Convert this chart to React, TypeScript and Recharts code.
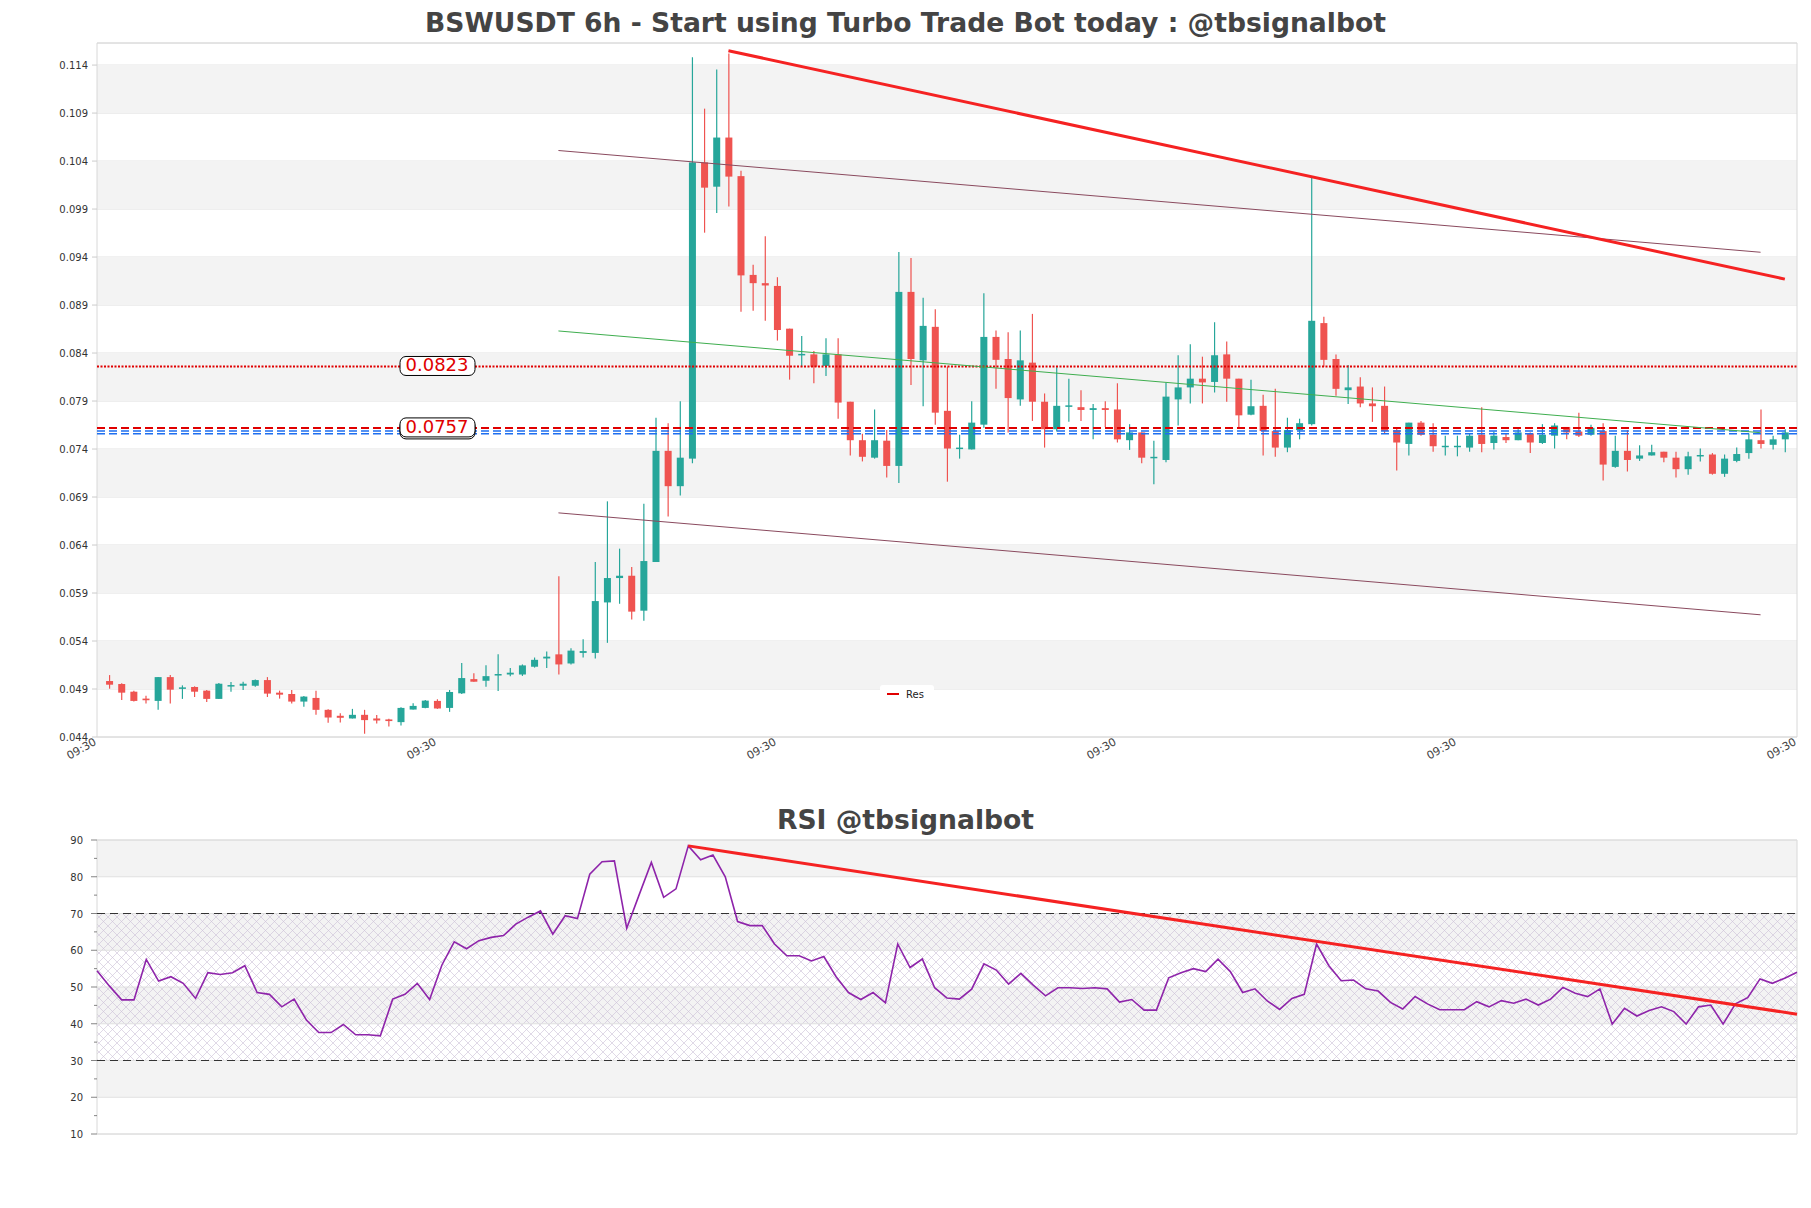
import React from 'react';
import {
  Bar,
  CartesianGrid,
  ComposedChart,
  Line,
  LineChart,
  ReferenceArea,
  ReferenceDot,
  ReferenceLine,
  XAxis,
  YAxis,
} from 'recharts';

// OHLC per 6h candle
const opens = [
  0.04983, 0.04952, 0.04872, 0.048, 0.04776, 0.05024, 0.04903, 0.04921, 0.04883, 0.04797,
  0.04934, 0.04934, 0.04934, 0.04993, 0.04862, 0.04848, 0.04769, 0.04807, 0.04683, 0.04621,
  0.04593, 0.04631, 0.04593, 0.04583, 0.04555, 0.04686, 0.04703, 0.04776, 0.04703, 0.04855,
  0.05003, 0.04986, 0.05041, 0.05051, 0.05051, 0.05132, 0.05218, 0.05261, 0.05166, 0.05276,
  0.05276, 0.05802, 0.06056, 0.0608, 0.05716, 0.06223, 0.07381, 0.07013, 0.073, 0.10386,
  0.10133, 0.10645, 0.10243, 0.09214, 0.09128, 0.09099, 0.08654, 0.08377, 0.08386, 0.08266,
  0.08386, 0.07893, 0.07492, 0.0731, 0.07487, 0.07224, 0.09037, 0.08324, 0.08673, 0.07798,
  0.07401, 0.07396, 0.07654, 0.08568, 0.08338, 0.07917, 0.083, 0.07893, 0.07607, 0.07841,
  0.07836, 0.07807, 0.07826, 0.07812, 0.07492, 0.07573, 0.07305, 0.07286, 0.07917, 0.08042,
  0.08133, 0.08099, 0.08386, 0.08133, 0.07758, 0.0785, 0.07587, 0.07415, 0.07597, 0.07659,
  0.08712, 0.08338, 0.08013, 0.08051, 0.07875, 0.0785, 0.07597, 0.07453, 0.07675, 0.07549,
  0.07425, 0.07425, 0.07415, 0.07549, 0.07463, 0.07525, 0.07492, 0.07563, 0.07463, 0.07539,
  0.0763, 0.07582, 0.07549, 0.07587, 0.07214, 0.07381, 0.073, 0.07333, 0.07372, 0.0731,
  0.0719, 0.07329, 0.07343, 0.07142, 0.07276, 0.07358, 0.07492, 0.07444, 0.07501,
];
const highs = [
  0.05045, 0.0496, 0.04883, 0.04831, 0.05024, 0.05045, 0.04938, 0.04928, 0.0489, 0.04962,
  0.04972, 0.04976, 0.05, 0.05024, 0.04883, 0.0489, 0.04828, 0.04883, 0.0469, 0.04648,
  0.04693, 0.04683, 0.04628, 0.0459, 0.0471, 0.04752, 0.04786, 0.04793, 0.0489, 0.05172,
  0.05065, 0.05148, 0.05262, 0.05118, 0.05156, 0.05228, 0.0529, 0.06075, 0.05324, 0.05419,
  0.06223, 0.06855, 0.06362, 0.0617, 0.06831, 0.07726, 0.07668, 0.07898, 0.11482, 0.10946,
  0.11353, 0.1152, 0.103, 0.09319, 0.09616, 0.0919, 0.08654, 0.08578, 0.0842, 0.08554,
  0.08554, 0.07893, 0.07559, 0.07812, 0.07597, 0.09453, 0.09391, 0.08975, 0.08855, 0.08257,
  0.07549, 0.07898, 0.09023, 0.08635, 0.08616, 0.08635, 0.08808, 0.07979, 0.08253, 0.08133,
  0.08013, 0.0787, 0.07898, 0.08085, 0.07659, 0.07573, 0.07487, 0.0809, 0.08377, 0.08491,
  0.08362, 0.08721, 0.0852, 0.08133, 0.08123, 0.07965, 0.08027, 0.07726, 0.07716, 0.10229,
  0.08779, 0.08386, 0.08276, 0.08147, 0.08042, 0.08051, 0.07621, 0.07675, 0.07693, 0.07669,
  0.07539, 0.07539, 0.07559, 0.07836, 0.07582, 0.07559, 0.07607, 0.07573, 0.07659, 0.07669,
  0.0763, 0.07779, 0.07654, 0.07669, 0.07539, 0.07597, 0.07439, 0.07444, 0.07372, 0.07372,
  0.07372, 0.07405, 0.07358, 0.07343, 0.07415, 0.07563, 0.07812, 0.07539, 0.07607,
];
const lows = [
  0.04903, 0.04786, 0.04769, 0.04748, 0.04683, 0.04748, 0.04797, 0.04817, 0.04765, 0.04797,
  0.04872, 0.0489, 0.04924, 0.04817, 0.048, 0.04748, 0.04714, 0.04631, 0.04548, 0.04552,
  0.04593, 0.04434, 0.04541, 0.0451, 0.04521, 0.04686, 0.047, 0.04693, 0.04662, 0.04848,
  0.04976, 0.04924, 0.04879, 0.05034, 0.05036, 0.05123, 0.05118, 0.05051, 0.05156, 0.05228,
  0.05218, 0.05381, 0.05788, 0.05625, 0.05611, 0.06223, 0.06697, 0.06917, 0.07252, 0.09654,
  0.0986, 0.09927, 0.08831, 0.08841, 0.08736, 0.0853, 0.08123, 0.08257, 0.08085, 0.08161,
  0.07716, 0.07333, 0.07271, 0.073, 0.07104, 0.07046, 0.08066, 0.07846, 0.07654, 0.0706,
  0.073, 0.07396, 0.07621, 0.08027, 0.07573, 0.0785, 0.07693, 0.07415, 0.07582, 0.07683,
  0.07693, 0.07501, 0.0763, 0.07468, 0.07391, 0.07252, 0.07032, 0.07262, 0.07645, 0.07875,
  0.07875, 0.07989, 0.07893, 0.0763, 0.07751, 0.07333, 0.07319, 0.07367, 0.07501, 0.07645,
  0.08257, 0.07956, 0.0787, 0.07836, 0.07683, 0.07559, 0.07176, 0.07333, 0.07539, 0.07372,
  0.07333, 0.07324, 0.07372, 0.07367, 0.07396, 0.07463, 0.07492, 0.07358, 0.07453, 0.07405,
  0.07501, 0.07525, 0.07539, 0.07071, 0.07204, 0.07166, 0.07276, 0.07333, 0.07262, 0.07104,
  0.07133, 0.07271, 0.07133, 0.0711, 0.07262, 0.073, 0.07405, 0.07396, 0.07367,
];
const closes = [
  0.04945, 0.04862, 0.04776, 0.04783, 0.05024, 0.04893, 0.04917, 0.04872, 0.04797, 0.04955,
  0.04941, 0.04955, 0.04993, 0.04852, 0.04841, 0.04769, 0.04821, 0.04683, 0.04603, 0.046,
  0.04631, 0.04576, 0.04572, 0.04566, 0.04703, 0.04724, 0.04779, 0.04697, 0.04869, 0.05014,
  0.04976, 0.05034, 0.05056, 0.0507, 0.05146, 0.05204, 0.05237, 0.05156, 0.053, 0.05295,
  0.05816, 0.06056, 0.0608, 0.05706, 0.06233, 0.07381, 0.07013, 0.0731, 0.10386, 0.10123,
  0.10645, 0.10238, 0.09209, 0.09128, 0.09104, 0.0864, 0.08372, 0.08391, 0.08257, 0.08386,
  0.07884, 0.07492, 0.07319, 0.07492, 0.07224, 0.09037, 0.08338, 0.08683, 0.07779, 0.07405,
  0.07415, 0.07675, 0.08568, 0.08329, 0.07931, 0.08324, 0.07893, 0.07607, 0.0785, 0.07855,
  0.07807, 0.07826, 0.07807, 0.07501, 0.07573, 0.0731, 0.07319, 0.07946, 0.08042, 0.08133,
  0.08094, 0.08377, 0.08133, 0.07751, 0.07846, 0.07587, 0.07415, 0.07597, 0.07669, 0.08736,
  0.08329, 0.08027, 0.08042, 0.07875, 0.07846, 0.07587, 0.07468, 0.07675, 0.07549, 0.07429,
  0.07434, 0.07434, 0.07539, 0.07453, 0.07539, 0.07492, 0.07573, 0.07468, 0.07549, 0.07645,
  0.07573, 0.07539, 0.07621, 0.07238, 0.07381, 0.07286, 0.07333, 0.07367, 0.0731, 0.0719,
  0.07324, 0.07338, 0.07142, 0.073, 0.07348, 0.07501, 0.07453, 0.07501, 0.07573,
];

const rsiValues = [
  54.4, 50.3, 46.5, 46.5, 57.5, 51.6, 52.8, 51.0, 46.9, 53.9,
  53.4, 53.9, 55.8, 48.5, 48.0, 44.6, 46.7, 41.0, 37.6, 37.6,
  39.8, 37.0, 37.0, 36.7, 46.7, 48.0, 51.0, 46.6, 56.0, 62.3,
  60.4, 62.6, 63.5, 64.0, 67.1, 69.0, 70.7, 64.4, 69.4, 68.6,
  80.7, 84.1, 84.3, 66.0, 75.0, 83.9, 74.4, 76.7, 88.4, 84.6,
  85.9, 80.0, 67.8, 66.7, 66.7, 61.7, 58.5, 58.5, 57.1, 58.3,
  52.8, 48.5, 46.6, 48.5, 45.7, 61.7, 55.3, 57.6, 49.8, 47.0,
  46.7, 49.4, 56.3, 54.6, 50.8, 53.7, 50.5, 47.6, 49.8, 49.8,
  49.6, 49.8, 49.5, 45.9, 46.6, 43.7, 43.7, 52.5, 53.9, 55.0,
  54.2, 57.6, 54.2, 48.5, 49.5, 46.2, 43.9, 46.9, 48.0, 61.7,
  55.8, 51.7, 51.9, 49.5, 48.9, 45.8, 44.0, 47.4, 45.4, 43.8,
  43.8, 43.8, 46.0, 44.6, 46.3, 45.6, 46.7, 45.1, 46.7, 49.9,
  48.3, 47.4, 49.5, 39.9, 44.2, 42.1, 43.6, 44.6, 43.3, 39.9,
  44.6, 45.1, 39.9, 45.4, 47.1, 52.2, 51.0, 52.4, 54.0,
];

const priceTicks = [
  0.044, 0.049, 0.054, 0.059, 0.064, 0.069, 0.074, 0.079, 0.084, 0.089, 0.094, 0.099, 0.104,
  0.109, 0.114,
];
const xTicks = [-1, 27, 55, 83, 111, 139];
const xTickLabels = ['09:30', '09:30', '09:30', '09:30', '09:30', '09:30'];
const rsiTicks = [10, 15, 20, 25, 30, 35, 40, 45, 50, 55, 60, 65, 70, 75, 80, 85, 90];
const rsiGrid = [10, 20, 30, 40, 50, 60, 70, 80, 90];

// trend lines: [startIndex, startValue, endIndex, endValue]
const resLine = [51, 0.1155, 138, 0.0917];
const channelUpper = [37, 0.1051, 136, 0.0945];
const channelMid = [37, 0.0863, 136, 0.0757];
const channelLower = [37, 0.06735, 136, 0.05673];
const rsiTrend = [48, 88.4, 138, 42.6];

const levelHigh = 0.0826;
const levelLow = [0.0762, 0.07588, 0.07558];

const FONT = '"DejaVu Sans", sans-serif';
const UP = '#26a69a';
const DOWN = '#ef5350';

const candles = opens.map((o, i) => ({
  i,
  open: o,
  high: highs[i],
  low: lows[i],
  close: closes[i],
}));
const rsiData = rsiValues.map((v, i) => ({ i, rsi: v }));

const seg = (s: number[]) => [
  { x: s[0], y: s[1] },
  { x: s[2], y: s[3] },
];

function Candle(props: any) {
  const { x, y, width, height, payload } = props;
  if (x == null || payload == null) return null;
  const { open, close, high, low } = payload;
  const cx = x + width / 2;
  const span = high - low || 1e-9;
  const toY = (v: number) => y + ((high - v) / span) * height;
  const color = close >= open ? UP : DOWN;
  const top = toY(Math.max(open, close));
  const bot = toY(Math.min(open, close));
  return (
    <g>
      <line x1={cx} x2={cx} y1={y} y2={y + height} stroke={color} strokeWidth={1.2} />
      <rect x={cx - 3.5} y={top} width={7} height={Math.max(bot - top, 1.5)} fill={color} />
    </g>
  );
}

function PriceTag({ cx, cy, text, doubled }: any) {
  if (cx == null) return null;
  return (
    <g>
      {doubled && (
        <rect x={cx - 37} y={cy - 8} width={75} height={19} rx={6} fill="#fff" stroke="#000" />
      )}
      <rect x={cx - 37} y={cy - 10} width={75} height={19} rx={6} fill="#fff" stroke="#000" />
      <text
        x={cx}
        y={cy + 5}
        textAnchor="middle"
        fill="#e00000"
        fontSize={18}
        fontFamily={FONT}
      >
        {text}
      </text>
    </g>
  );
}

function XTick({ x, y, index }: any) {
  return (
    <g transform={`translate(${x - 4},${y - 8})`}>
      <text
        x={0}
        y={0}
        dy={8}
        textAnchor="end"
        transform="rotate(-30)"
        fontSize={11}
        fill="#444"
        fontFamily={FONT}
      >
        {xTickLabels[index]}
      </text>
    </g>
  );
}

function RsiTick({ x, y, payload }: any) {
  const major = payload.value % 10 === 0;
  return (
    <g>
      <line x1={97 - (major ? 6 : 3)} x2={97} y1={y} y2={y} stroke="#666" strokeWidth={0.8} />
      {major && (
        <text x={x - 6} y={y + 4} textAnchor="end" fontSize={10} fill="#333" fontFamily={FONT}>
          {payload.value}
        </text>
      )}
    </g>
  );
}

const titleStyle: React.CSSProperties = {
  position: 'absolute',
  left: 0,
  width: 1811,
  textAlign: 'center',
  fontFamily: FONT,
  fontWeight: 'bold',
  fontSize: 26.6,
  color: '#444',
  lineHeight: '34px',
};

export default function App() {
  const grayBands = [1, 3, 5, 7, 9, 11, 13].map((k) => [priceTicks[k], priceTicks[k + 1]]);
  return (
    <div
      style={{
        position: 'absolute',
        left: 0,
        top: 0,
        width: 1811,
        height: 1208,
        background: '#fff',
        fontFamily: FONT,
      }}
    >
      <div style={{ ...titleStyle, top: 6 }}>
        BSWUSDT 6h - Start using Turbo Trade Bot today : @tbsignalbot
      </div>

      <div style={{ position: 'absolute', left: 0, top: 0 }}>
        <ComposedChart
          width={1811}
          height={777}
          data={candles}
          margin={{ top: 43, right: 14, bottom: 0, left: 0 }}
        >
          {grayBands.map(([a, b]) => (
            <ReferenceArea key={a} y1={a} y2={b} fill="#f3f3f3" fillOpacity={1} stroke="none" />
          ))}
          <CartesianGrid vertical={false} stroke="#e0e0e0" />
          <ReferenceArea
            x1={-1}
            x2={139}
            y1={0.044}
            y2={0.1163}
            fill="none"
            stroke="#d8d8d8"
          />
          <XAxis
            dataKey="i"
            type="number"
            domain={[-1, 139]}
            ticks={xTicks}
            interval={0}
            allowDataOverflow
            axisLine={false}
            tickLine={false}
            height={40}
            tick={<XTick />}
          />
          <YAxis
            type="number"
            domain={[0.044, 0.1163]}
            ticks={priceTicks}
            interval={0}
            allowDataOverflow
            width={97}
            axisLine={false}
            tickLine={{ stroke: '#ccc' }}
            tickSize={5}
            tickMargin={4}
            tick={{ fontSize: 10, fill: '#333', fontFamily: FONT }}
            tickFormatter={(v: number) => String(v)}
          />
          <Bar
            dataKey={(d: any) => [d.low, d.high]}
            barSize={9}
            isAnimationActive={false}
            shape={(p: any) => <Candle {...p} />}
          />
          <ReferenceLine
            y={levelHigh}
            stroke="#e00000"
            strokeWidth={2}
            strokeDasharray="2 1.5"
          />
          <ReferenceLine y={levelLow[0]} stroke="#e00000" strokeWidth={2} strokeDasharray="8 4" />
          <ReferenceLine y={levelLow[1]} stroke="#1e6ff0" strokeWidth={1.5} strokeDasharray="8 4" />
          <ReferenceLine y={levelLow[2]} stroke="#1e6ff0" strokeWidth={1.5} strokeDasharray="8 4" />
          <ReferenceLine segment={seg(channelUpper)} stroke="#8a4a5e" strokeWidth={1} />
          <ReferenceLine segment={seg(channelMid)} stroke="#3fae4f" strokeWidth={1} />
          <ReferenceLine segment={seg(channelLower)} stroke="#8a4a5e" strokeWidth={1} />
          <ReferenceLine segment={seg(resLine)} stroke="#f52222" strokeWidth={3} />
          <ReferenceDot
            x={27}
            y={levelHigh}
            r={1}
            shape={(p: any) => <PriceTag {...p} text="0.0823" />}
          />
          <ReferenceDot
            x={27}
            y={levelLow[0]}
            r={1}
            shape={(p: any) => <PriceTag {...p} text="0.0757" doubled />}
          />
        </ComposedChart>
      </div>

      <div
        style={{
          position: 'absolute',
          left: 880,
          top: 685,
          width: 54,
          height: 18,
          background: '#fff',
          borderRadius: 3,
          fontSize: 10,
          color: '#222',
          display: 'flex',
          alignItems: 'center',
        }}
      >
        <span
          style={{
            display: 'inline-block',
            width: 12,
            height: 2,
            background: '#e00000',
            marginLeft: 7,
            marginRight: 7,
          }}
        />
        Res
      </div>

      <div style={{ ...titleStyle, top: 803 }}>RSI @tbsignalbot</div>

      <div style={{ position: 'absolute', left: 0, top: 800 }}>
        <LineChart
          width={1811}
          height={340}
          data={rsiData}
          margin={{ top: 40, right: 14, bottom: 6, left: 0 }}
        >
          <defs>
            <pattern id="rsiHatch" width="9" height="9" patternUnits="userSpaceOnUse">
              <path d="M0,0 L9,9 M9,0 L0,9" stroke="#cbbfd6" strokeWidth={0.6} />
            </pattern>
          </defs>
          {[20, 40, 60, 80].map((a) => (
            <ReferenceArea key={a} y1={a} y2={a + 10} fill="#f3f3f3" fillOpacity={1} stroke="none" />
          ))}
          <ReferenceArea y1={30} y2={70} fill="url(#rsiHatch)" fillOpacity={1} stroke="none" />
          {rsiGrid.map((g) => (
            <ReferenceLine key={g} y={g} stroke="#e0e0e0" strokeWidth={1} />
          ))}
          <ReferenceArea x1={0} x2={138} y1={10} y2={90} fill="none" stroke="#d8d8d8" />
          <XAxis dataKey="i" type="number" domain={[0, 138]} hide />
          <YAxis
            type="number"
            domain={[10, 90]}
            ticks={rsiTicks}
            interval={0}
            width={97}
            axisLine={false}
            tickLine={false}
            tick={<RsiTick />}
          />
          <ReferenceLine y={70} stroke="#333" strokeWidth={1.2} strokeDasharray="8 5" />
          <ReferenceLine y={30} stroke="#333" strokeWidth={1.2} strokeDasharray="8 5" />
          <Line
            dataKey="rsi"
            stroke="#8e24aa"
            strokeWidth={1.6}
            dot={false}
            isAnimationActive={false}
          />
          <ReferenceLine segment={seg(rsiTrend)} stroke="#f52222" strokeWidth={3} />
        </LineChart>
      </div>
    </div>
  );
}
